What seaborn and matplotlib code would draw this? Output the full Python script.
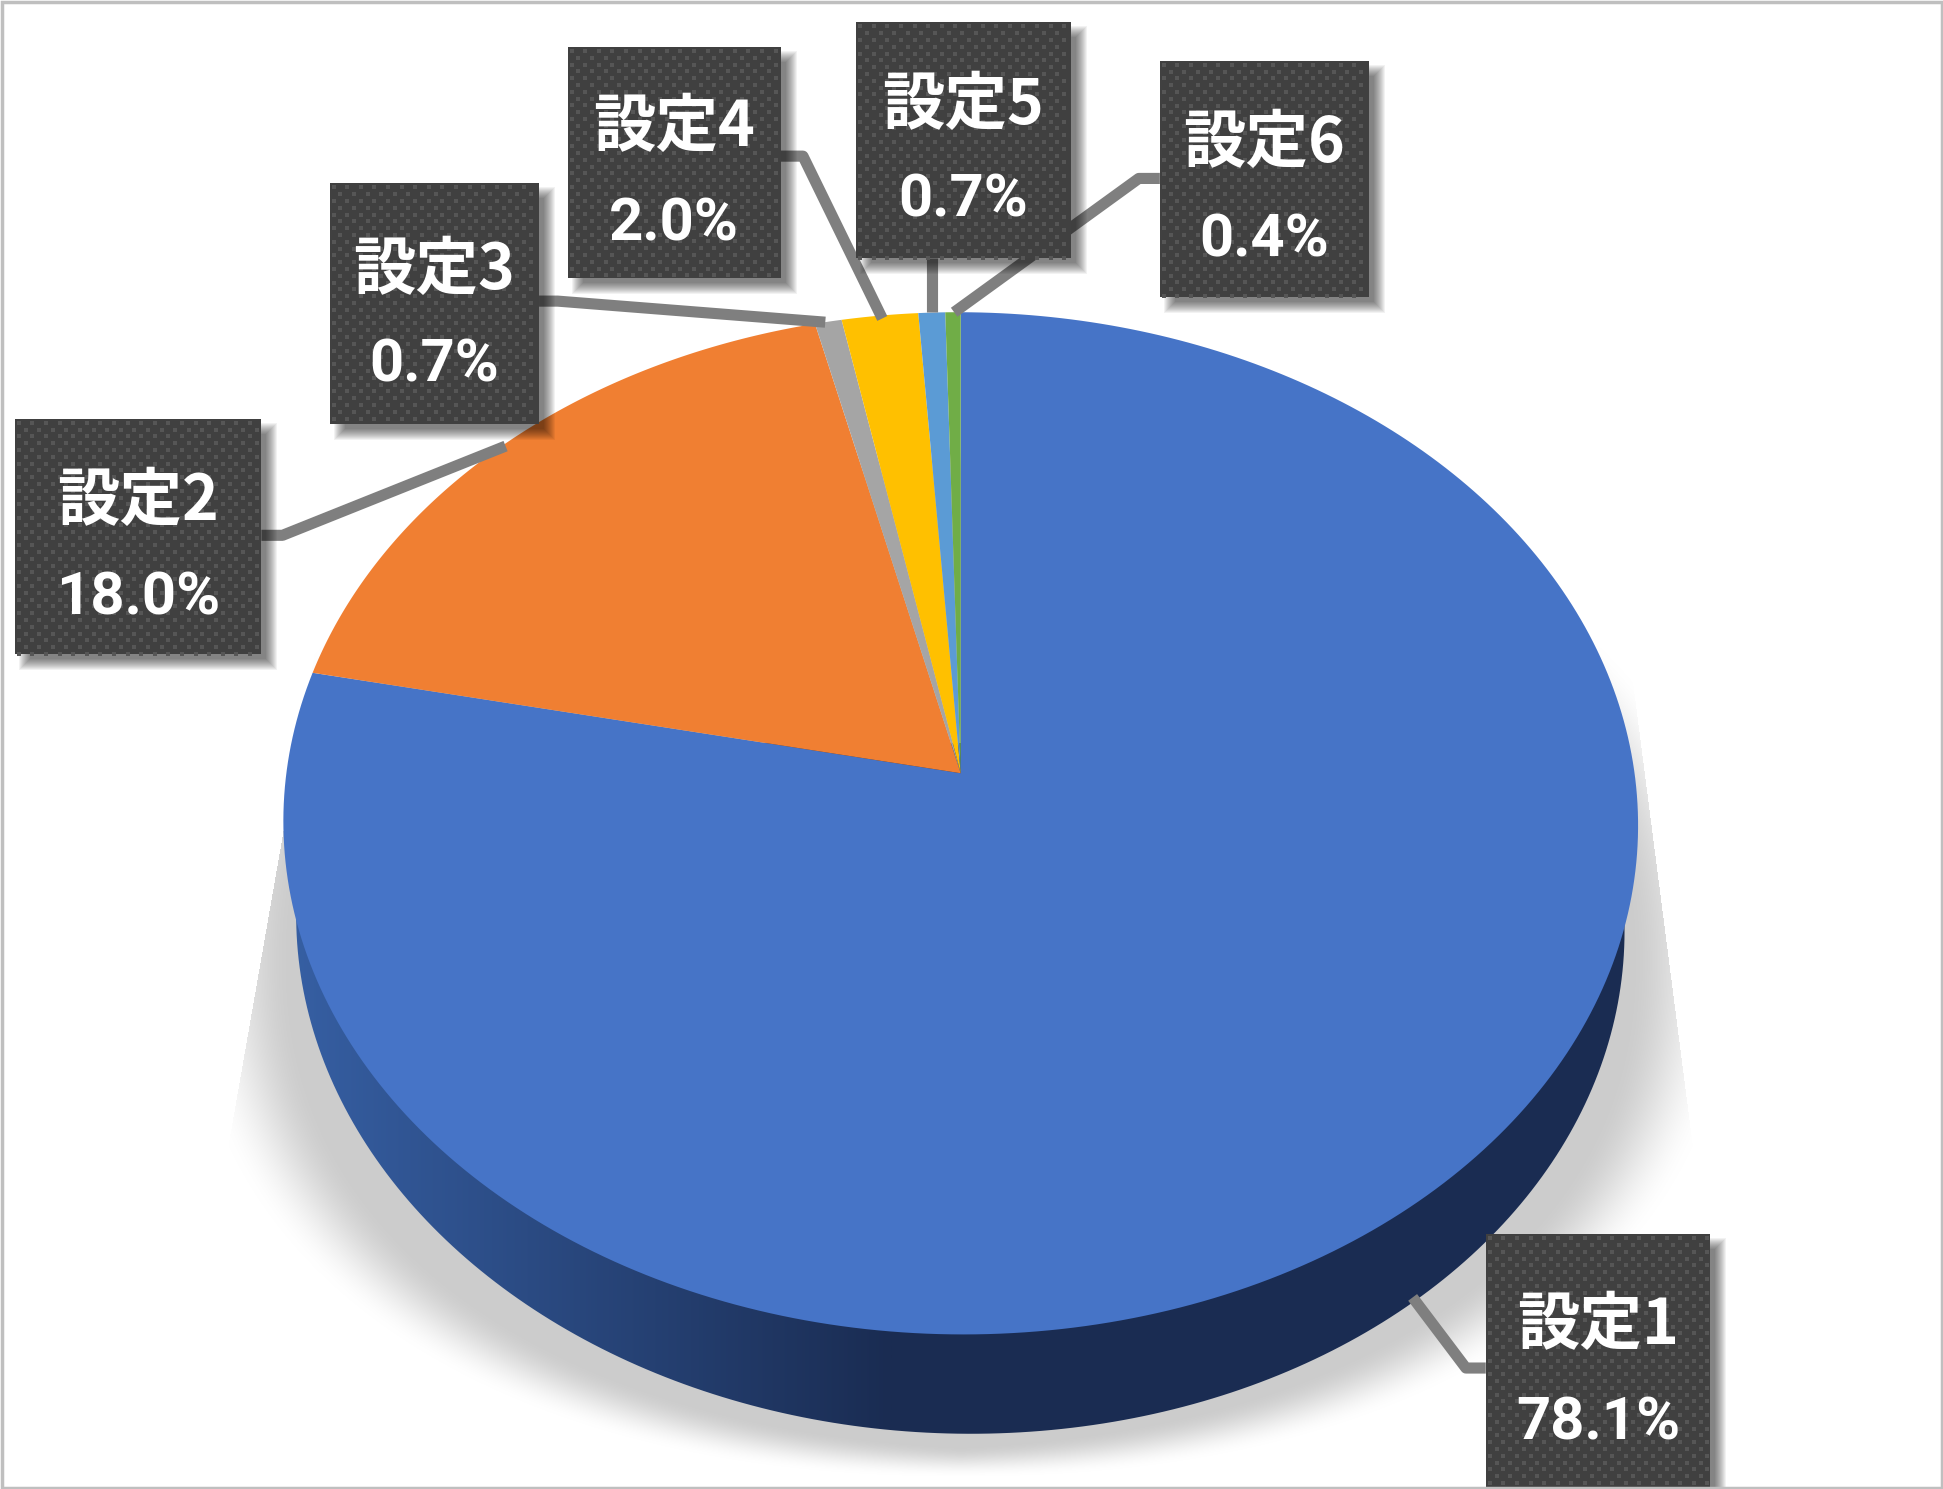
import numpy as np
import matplotlib
matplotlib.use("Agg")
import matplotlib.pyplot as plt
import seaborn as sns
from matplotlib.colors import LinearSegmentedColormap
from matplotlib.patches import Polygon, Rectangle

# 設定ごとの割合 (%)
labels = ["設定1", "設定2", "設定3", "設定4", "設定5", "設定6"]
values = [78.1, 18.0, 0.7, 2.0, 0.7, 0.4]
colors = ["#4674C7", "#F07F32", "#A5A5A5", "#FFC000", "#5B9BD5", "#70AD47"]

W, H = 1943, 1489
S = W / 1568  # 下のレイアウト座標は縮小画像で測ったもの

sns.set_theme(style="white")
plt.rcParams["font.family"] = ["Noto Sans CJK JP", "DejaVu Sans"]

fig = plt.figure(figsize=(W / 100, H / 100), dpi=100, facecolor="white")
ax = fig.add_axes([0, 0, 1, 1])


def project(t):
    # 円盤の上面を遠近付きの楕円へ写す (右へ少し下がる)
    x, y = np.cos(t), np.sin(t)
    den = 1 + 0.098 * y
    px = 544 * x / den
    py = -408.5 * y / den
    return (775.3 + px) * S, (624 + py + 0.003 * px) * S


# ラベルの箱 (x0, x1, y0, y1, 1行目y, 2行目y)
boxes = [
    (1199, 1380, 996, 1240, 1070, 1149),
    (12, 211, 338, 528, 405, 483),
    (266, 435, 148, 342, 218, 295),
    (458, 630, 38, 224, 103, 181),
    (691, 864, 18, 208, 85, 162),
    (936, 1105, 49, 240, 116, 194),
]
leaders = [
    [(1199, 1104), (1183, 1104), (1140, 1047)],
    [(211, 432), (228, 432), (408, 360)],
    [(435, 243), (450, 243), (666, 260)],
    [(630, 126), (648, 126), (712, 257)],
    [(752, 208), (752, 252)],
    [(936, 144), (919, 144), (770, 252)],
]

wedges, _ = ax.pie(values, startangle=90, counterclock=False, colors=sns.color_palette(colors))

# 影
yy, xx = np.mgrid[0:H, 0:W]
u = np.abs(xx - 775 * S) / (625 * S)
v = np.abs(yy - 775 * S) / (417 * S)
dist = (u ** 2.2 + v ** 2.2) ** (1 / 2.2)
fade = np.clip((1.0 - dist) / (0.06 + 0.09 * u), 0, 1)
fade = fade * fade * (3 - 2 * fade)
left_edge = (250 - (yy / S - 547) * 60 / 343) * S
right_edge = (1320 + (yy / S - 570) * 40 / 310) * S
fade[(xx < left_edge) | (xx > right_edge)] = 0
shadow = np.zeros((H, W, 4))
shadow[..., :3] = 0.8
shadow[..., 3] = fade
ax.imshow(shadow, extent=(0, W, H, 0), aspect="auto", zorder=1)

# 側面のグラデーション
t = np.linspace(0, 2 * np.pi, 400)
rim_x = 536 * np.cos(t)
rim = np.column_stack([(775 + rim_x) * S, (745 + 412 * np.sin(t) + 0.012 * rim_x) * S])
wall = Polygon(rim, transform=ax.transData)
wall_cmap = LinearSegmentedColormap.from_list("wall", ["#365FA3", "#1A2C52"])
wall_img = ax.imshow(np.linspace(0, 1, 256)[None, :], cmap=wall_cmap, extent=(235 * S, 720 * S, 1200 * S, 600 * S), aspect="auto", zorder=2)
wall_img.set_clip_path(wall)
dark = Polygon(rim, closed=True, fc="#1A2C52", ec="none", zorder=1.9)
ax.add_patch(dark)
dark.set_clip_path(Rectangle((720 * S, 600 * S), 700 * S, 600 * S, transform=ax.transData))

# 上面
for w in wedges:
    t = np.radians(np.linspace(w.theta1, w.theta2, 300))
    px, py = project(t)
    px = np.r_[775.3 * S, px]
    py = np.r_[624 * S, py]
    ax.fill(px, py, color=w.get_facecolor(), lw=0, zorder=3)
    w.remove()

# 引き出し線
for pts in leaders:
    pts = np.array(pts) * S
    ax.plot(pts[:, 0], pts[:, 1], color="#7F7F7F", lw=8, solid_joinstyle="round", solid_capstyle="butt", zorder=4)

# ラベルの箱
for i, (x0, x1, y0, y1, ty1, ty2) in enumerate(boxes):
    x0, x1, y0, y1 = x0 * S, x1 * S, y0 * S, y1 * S
    for j in range(12):
        ax.add_patch(Rectangle((x0 + 4 + j, y0 + 4 + j), x1 - x0 + 12 - 2 * j, y1 - y0 + 12 - 2 * j, fc="black", ec="none", alpha=0.05, zorder=5))
    ax.add_patch(Rectangle((x0, y0), x1 - x0, y1 - y0, fc="#404040", ec="none", zorder=5.1))
    dx, dy = [], []
    for r, yv in enumerate(np.arange(y0 + 4, y1, 6.8)):
        for xv in np.arange(x0 + 4 + (r % 2) * 6.8, x1 - 2, 13.6):
            dx.append(xv)
            dy.append(yv)
    ax.scatter(dx, dy, s=5, marker="s", color="#565656", linewidths=0, zorder=5.2)
    ax.text((x0 + x1) / 2, ty1 * S, labels[i], color="white", fontsize=45, fontweight="bold", ha="center", va="center", zorder=6)
    ax.text((x0 + x1) / 2, ty2 * S, f"{values[i]:.1f}%", color="white", family="Roboto", fontsize=43, fontweight="bold", ha="center", va="center", zorder=6)

ax.set_aspect("auto")
ax.set_xlim(0, W)
ax.set_ylim(H, 0)
ax.axis("off")

# 外枠
ax.add_patch(Rectangle((1.5, 1.5), W - 3, H - 3, fc="none", ec="#BFBFBF", lw=2.5, zorder=7))

fig.savefig("out.png", dpi=100)
